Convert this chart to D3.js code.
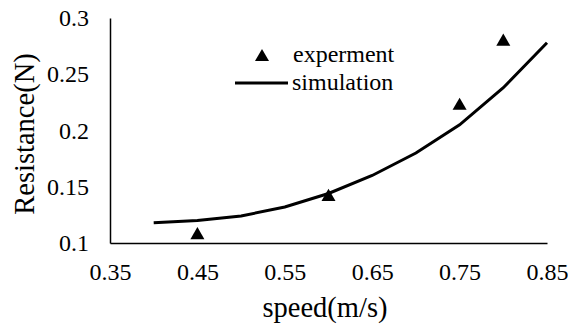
<!DOCTYPE html>
<html>
<head>
<meta charset="utf-8">
<script src="https://cdn.jsdelivr.net/npm/d3@7"></script>
<style>
  body { margin: 0; background: #fff; }
  text { font-family: "Liberation Serif", "Times New Roman", serif; fill: #000; }
</style>
</head>
<body>
<svg id="chart" width="568" height="329"></svg>
<script>
const svg = d3.select("#chart");

// data
const simSpeed = [0.4, 0.45, 0.5, 0.55, 0.6, 0.65, 0.7, 0.75, 0.8, 0.85];
const simResist = [0.118, 0.12, 0.124, 0.132, 0.144, 0.16, 0.18, 0.205, 0.238, 0.278];
const expSpeed = [0.45, 0.6, 0.75, 0.8];
const expResist = [0.107, 0.141, 0.222, 0.279];
const xTicks = [0.35, 0.45, 0.55, 0.65, 0.75, 0.85];
const yTicks = [0.1, 0.15, 0.2, 0.25, 0.3];

const x = d3.scaleLinear().domain([0.35, 0.85]).range([110, 547]);
const y = d3.scaleLinear().domain([0.1, 0.3]).range([243, 18]);
const fmt = d => String(+d.toFixed(2));

// axes: plain lines, labels only
const xAxis = svg.append("g").attr("transform", "translate(0,243)")
  .call(d3.axisBottom(x).tickValues(xTicks).tickSize(0).tickPadding(20).tickFormat(fmt));
const yAxis = svg.append("g").attr("transform", "translate(110,0)")
  .call(d3.axisLeft(y).tickValues(yTicks).tickSize(0).tickPadding(21).tickFormat(fmt));
[xAxis, yAxis].forEach(a => {
  a.select(".domain").attr("stroke", "#000").attr("stroke-width", 1.5);
  a.selectAll("text").style("font-family", "Liberation Serif").style("font-size", "24px");
});

// simulation line
const simData = simSpeed.map((s, i) => ({ s, r: simResist[i] }));
svg.append("path").datum(simData)
  .attr("fill", "none").attr("stroke", "#000").attr("stroke-width", 3)
  .attr("d", d3.line().x(d => x(d.s)).y(d => y(d.r)));

// experiment markers
const tri = d3.symbol().type(d3.symbolTriangle).size(85);
svg.selectAll(".pt").data(expSpeed.map((s, i) => ({ s, r: expResist[i] })))
  .enter().append("path").attr("class", "pt")
  .attr("d", tri).attr("fill", "#000")
  .attr("transform", d => `translate(${x(d.s)},${y(d.r)})`);

// legend
svg.append("path").attr("d", tri).attr("fill", "#000").attr("transform", "translate(262,57)");
svg.append("text").attr("x", 293).attr("y", 62).style("font-size", "24px").text("experment");
svg.append("line").attr("x1", 235).attr("x2", 288).attr("y1", 83).attr("y2", 83)
  .attr("stroke", "#000").attr("stroke-width", 3);
svg.append("text").attr("x", 292).attr("y", 90).style("font-size", "24px").text("simulation");

// axis titles
svg.append("text").attr("x", 325).attr("y", 317).attr("text-anchor", "middle")
  .style("font-size", "28.5px").text("speed(m/s)");
svg.append("text").attr("transform", "translate(34,134) rotate(-90)").attr("text-anchor", "middle")
  .style("font-size", "28.5px").text("Resistance(N)");
</script>
</body>
</html>
